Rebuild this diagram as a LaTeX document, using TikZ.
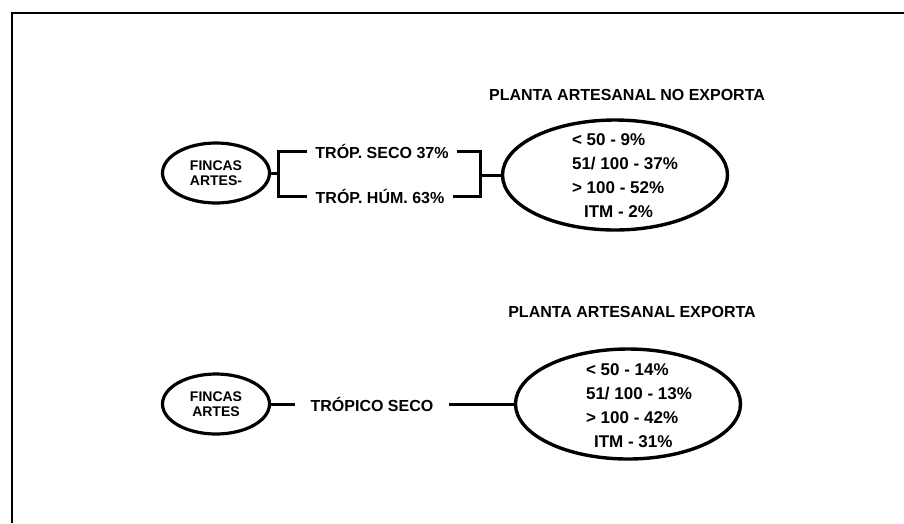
\documentclass[tikz,border=0pt]{standalone}
\usepackage{fontspec}
\setmainfont{Liberation Sans}
\usetikzlibrary{positioning, calc, shapes.geometric}
\tikzset{
    basetext/.style={
        font={\fontsize{16}{19}\selectfont\bfseries},
        inner sep=0pt
    },
    smallellipse/.style={ellipse, draw=black, line width=3.2pt, minimum width=107pt, minimum height=60pt, inner sep=0pt,
        align=center, font={\fontsize{14}{15.5}\selectfont\bfseries}},
    bigellipse/.style={ellipse, draw=black, line width=3.4pt, minimum width=225pt, minimum height=110pt, inner sep=0pt},
    listtext/.style={basetext, align=left, font={\fontsize{17}{24}\selectfont\bfseries}},
    troptext/.style={basetext, inner xsep=8pt},
    myline/.style={line width=3pt, draw=black}
}

\begin{document}
\begin{tikzpicture}[x=1pt, y=-1pt]

    \useasboundingbox (0,0) rectangle (904,523);

    % Marco
    \draw[line width=2.6pt] (12,523) -- (12,13) -- (904,13);

    % ==========================================
    % 1. Planta artesanal no exporta
    % ==========================================
    \node[basetext] (titulo_noexp) at (627, 95) {PLANTA ARTESANAL NO EXPORTA};

    \node[smallellipse] (fincas_noexp) at (216, 173) {FINCAS\\ARTES-};

    \node[troptext] (seco_noexp) at (382, 151) {TRÓP. SECO 37\%};
    \node[troptext] (hum_noexp) at (380, 196) {TRÓP. HÚM. 63\%};

    \node[bigellipse] (planta_noexp) at (615, 175) {};
    \node[listtext] (lista_noexp) at (625, 176) {< 50 - 9\%\\51/ 100 - 37\%\\> 100 - 52\%\\\hspace*{12pt}ITM - 2\%};

    \coordinate (junta_izq) at (278, 173);
    \coordinate (junta_der) at (480, 175);

    % ==========================================
    % 2. Planta artesanal exporta
    % ==========================================
    \node[basetext] (titulo_exp) at (632, 312) {PLANTA ARTESANAL EXPORTA};

    \node[smallellipse] (fincas_exp) at (216, 404) {FINCAS\\ARTES};

    \node[basetext, inner xsep=15pt] (seco_exp) at (372, 404) {TRÓPICO SECO};

    \node[bigellipse] (planta_exp) at (628, 404) {};
    \node[listtext] (lista_exp) at (639, 406) {< 50 - 14\%\\51/ 100 - 13\%\\> 100 - 42\%\\\hspace*{8pt}ITM - 31\%};

    % ==========================================
    % Conexiones
    % ==========================================
    \draw[myline] (fincas_noexp.east) -- (junta_izq);
    \draw[myline] (seco_noexp.west) -| (junta_izq) |- (hum_noexp.west);
    \draw[myline] (seco_noexp.east) -| (junta_der) |- (hum_noexp.east);
    \draw[myline] (junta_der) -- (planta_noexp.west);

    \draw[myline] (fincas_exp.east) -- (seco_exp.west);
    \draw[myline] (seco_exp.east) -- (planta_exp.west);

\end{tikzpicture}
\end{document}
